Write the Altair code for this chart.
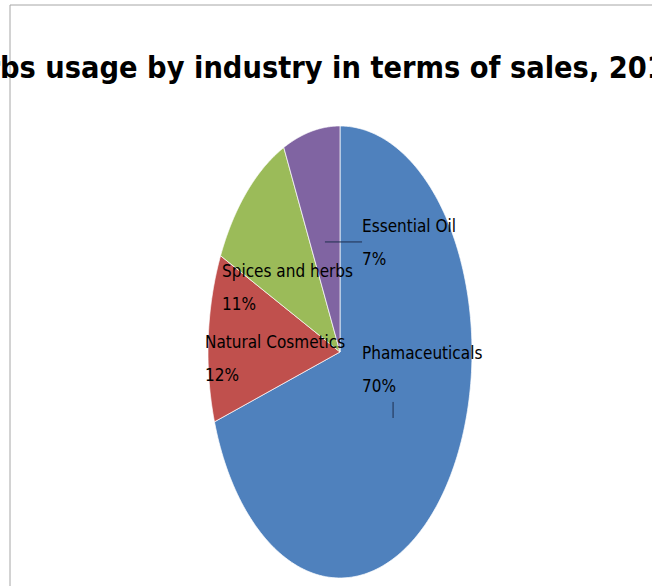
import altair as alt
import pandas as pd

# ---- data ----
categories = ["Phamaceuticals", "Natural Cosmetics", "Spices and herbs", "Essential Oil"]
values = [70, 12, 11, 7]
colors = ["#4F81BD", "#C0504D", "#9BBB59", "#8064A2"]
title_text = "Herbs usage by industry in terms of sales, 2012"

# label anchor positions (in pie units, -1..1)
label_x = [0.167, -1.023, -0.894, 0.167]
label_y = [-0.031, 0.018, 0.332, 0.531]

# leader lines (pie units)
leader_x = [-0.114, 0.402]
leader_x2 = [0.167, 0.402]
leader_y = [0.487, -0.221]
leader_y2 = [0.487, -0.292]

N = 180
FONT = "DejaVu Sans Condensed"

df = pd.DataFrame({
    "category": categories,
    "value": values,
    "order": list(range(len(categories))),
    "lx": label_x,
    "ly": label_y,
})
leaders = pd.DataFrame({"x": leader_x, "x2": leader_x2, "y": leader_y, "y2": leader_y2})
one = pd.DataFrame({"t": [title_text]})

x_scale = alt.Scale(domain=[-1, 1], nice=False, zero=False)
y_scale = alt.Scale(domain=[-1, 1], nice=False, zero=False)
color_scale = alt.Scale(domain=categories, range=colors)

base = alt.Chart(df).transform_window(
    cum="sum(value)", sort=[alt.SortField("order")], frame=[None, 0]
).transform_joinaggregate(total="sum(value)")

slices = base.transform_calculate(
    a0="2*PI*(datum.cum - datum.value)/datum.total",
    a1="2*PI*datum.cum/datum.total",
    steps=f"sequence(-1, {N + 2})",
).transform_flatten(["steps"], as_=["i"]).transform_calculate(
    t=f"datum.a0 + (datum.a1 - datum.a0)*clamp(datum.i, 0, {N})/{N}",
    px=f"(datum.i < 0 || datum.i > {N}) ? 0 : sin(datum.t)",
    py=f"(datum.i < 0 || datum.i > {N}) ? 0 : cos(datum.t)",
).mark_line(filled=True, stroke="white", strokeWidth=0.7, interpolate="linear").encode(
    x=alt.X("px:Q", scale=x_scale, axis=None),
    y=alt.Y("py:Q", scale=y_scale, axis=None),
    color=alt.Color("category:N", scale=color_scale, legend=None),
    order=alt.Order("i:Q"),
    detail="category:N",
)

labels = base.transform_calculate(
    lab="datum.category + '\\n' + format(datum.value/datum.total, '.0%')"
).mark_text(
    font=FONT, fontSize=17, align="left", baseline="alphabetic",
    lineBreak="\n", lineHeight=33, color="black"
).encode(
    x=alt.X("lx:Q", scale=x_scale, axis=None),
    y=alt.Y("ly:Q", scale=y_scale, axis=None),
    text="lab:N",
)

leader_rules = alt.Chart(leaders).mark_rule(color="#1f2f4f", strokeWidth=1).encode(
    x=alt.X("x:Q", scale=x_scale, axis=None),
    x2="x2:Q",
    y=alt.Y("y:Q", scale=y_scale, axis=None),
    y2="y2:Q",
)

title = alt.Chart(one).mark_text(
    font=FONT, fontSize=30.4, fontWeight="bold", align="left", baseline="alphabetic", color="black"
).encode(x=alt.value(-263), y=alt.value(-48), text="t:N")

frame_left = alt.Chart(one).mark_rule(color="#a6a6a6", strokeWidth=1).encode(
    x=alt.value(-198), y=alt.value(-121), y2=alt.value(460)
)
frame_top = alt.Chart(one).mark_rule(color="#a6a6a6", strokeWidth=1).encode(
    x=alt.value(-198), x2=alt.value(444), y=alt.value(-121)
)

chart = alt.layer(frame_left, frame_top, slices, leader_rules, labels, title).properties(
    width=264, height=452,
    autosize=alt.AutoSizeParams(type="none"),
    padding={"left": 208, "top": 126, "right": 180, "bottom": 8},
    background="white",
).configure_view(stroke=None)

chart.save("out.html", embed_options={"renderer": "svg", "actions": False})
